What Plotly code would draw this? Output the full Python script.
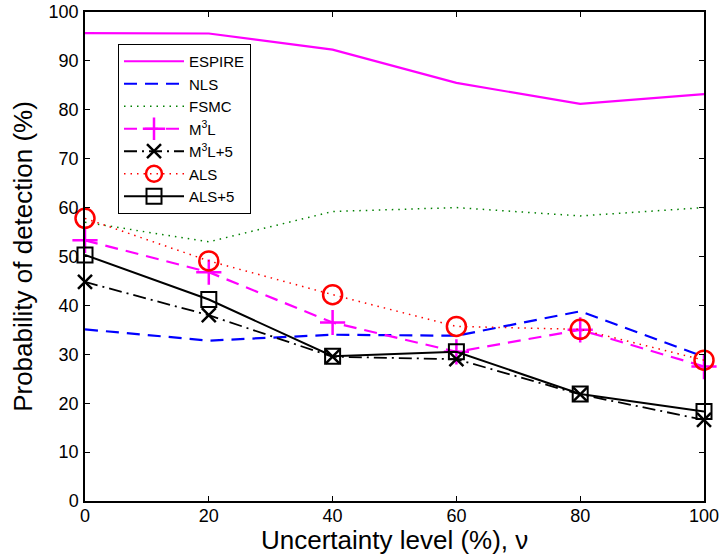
import plotly.graph_objects as go

x_levels = [0, 20, 40, 60, 80, 100]
espire = [95.7, 95.6, 92.3, 85.5, 81.2, 83.2]
nls = [35.1, 32.8, 34.0, 33.8, 38.8, 29.5]
fsmc = [57.0, 53.0, 59.2, 60.0, 58.3, 60.0]
m3l = [53.3, 46.8, 36.5, 30.5, 35.0, 27.5]
m3l5 = [44.8, 38.0, 29.5, 29.0, 21.8, 16.6]
als = [57.8, 49.1, 42.2, 35.7, 35.1, 28.8]
als5 = [50.3, 41.2, 29.6, 30.5, 21.9, 18.3]

fig = go.Figure()
fig.add_trace(go.Scatter(x=x_levels, y=espire, name="ESPIRE", mode="lines",
                         line=dict(color="#ff00ff", width=2.2)))
fig.add_trace(go.Scatter(x=x_levels, y=nls, name="NLS", mode="lines",
                         line=dict(color="#0000ff", width=2.2, dash="13px,8px")))
fig.add_trace(go.Scatter(x=x_levels, y=fsmc, name="FSMC", mode="lines",
                         line=dict(color="#008000", width=1.5, dash="1.5px,5px")))
fig.add_trace(go.Scatter(x=x_levels, y=m3l, name="M<sup>3</sup>L", mode="lines+markers",
                         line=dict(color="#ff00ff", width=2.2, dash="13px,8px"),
                         marker=dict(symbol="cross-thin", size=18, color="#ff00ff",
                                     line=dict(color="#ff00ff", width=2.5))))
fig.add_trace(go.Scatter(x=x_levels, y=m3l5, name="M<sup>3</sup>L+5", mode="lines+markers",
                         line=dict(color="#000000", width=1.8, dash="13px,5px,2px,5px"),
                         marker=dict(symbol="x-thin", size=14, color="#000000",
                                     line=dict(color="#000000", width=2.5))))
fig.add_trace(go.Scatter(x=x_levels, y=als, name="ALS", mode="lines+markers",
                         line=dict(color="#ff0000", width=1.5, dash="1.5px,5px"),
                         marker=dict(symbol="circle-open", size=19, color="#ff0000",
                                     line=dict(color="#ff0000", width=2.5))))
fig.add_trace(go.Scatter(x=x_levels, y=als5, name="ALS+5", mode="lines+markers",
                         line=dict(color="#000000", width=2),
                         marker=dict(symbol="square-open", size=15, color="#000000",
                                     line=dict(color="#000000", width=2))))
fig.update_traces(cliponaxis=False)

axis_common = dict(showgrid=False, zeroline=False, showline=True, linecolor="black",
                   linewidth=1.5, mirror="ticks", ticks="inside", ticklen=5,
                   tickcolor="black", automargin=False, ticklabeloverflow="allow",
                   tickfont=dict(family="Liberation Sans", size=18, color="black"))

fig.update_layout(
    width=719, height=559,
    paper_bgcolor="white", plot_bgcolor="white",
    margin=dict(l=85, r=15, t=12, b=58),
    font=dict(family="Liberation Sans", color="black"),
    xaxis=dict(range=[0, 100], tickvals=[0, 20, 40, 60, 80, 100], ticklabelstandoff=-2,
               **axis_common),
    yaxis=dict(range=[0, 100], tickvals=list(range(0, 101, 10)), ticklabelstandoff=1,
               title=dict(text="Probability of detection (%)", font=dict(size=26), standoff=9),
               **axis_common),
    legend=dict(x=0.053, y=0.935, xanchor="left", yanchor="top",
                bgcolor="white", bordercolor="black", borderwidth=1.2,
                font=dict(size=15, family="Liberation Sans"), tracegroupgap=0,
                itemwidth=60),
    annotations=[dict(text="Uncertainty level (%), ν", xref="paper", yref="paper",
                      x=0.5, y=0, xanchor="center", yanchor="middle", yshift=-39,
                      showarrow=False, font=dict(size=26, family="Liberation Sans"))],
)

fig.write_html("out.html", config={"displayModeBar": False},
               post_script="document.body.style.margin='0';document.body.style.overflow='hidden';")
